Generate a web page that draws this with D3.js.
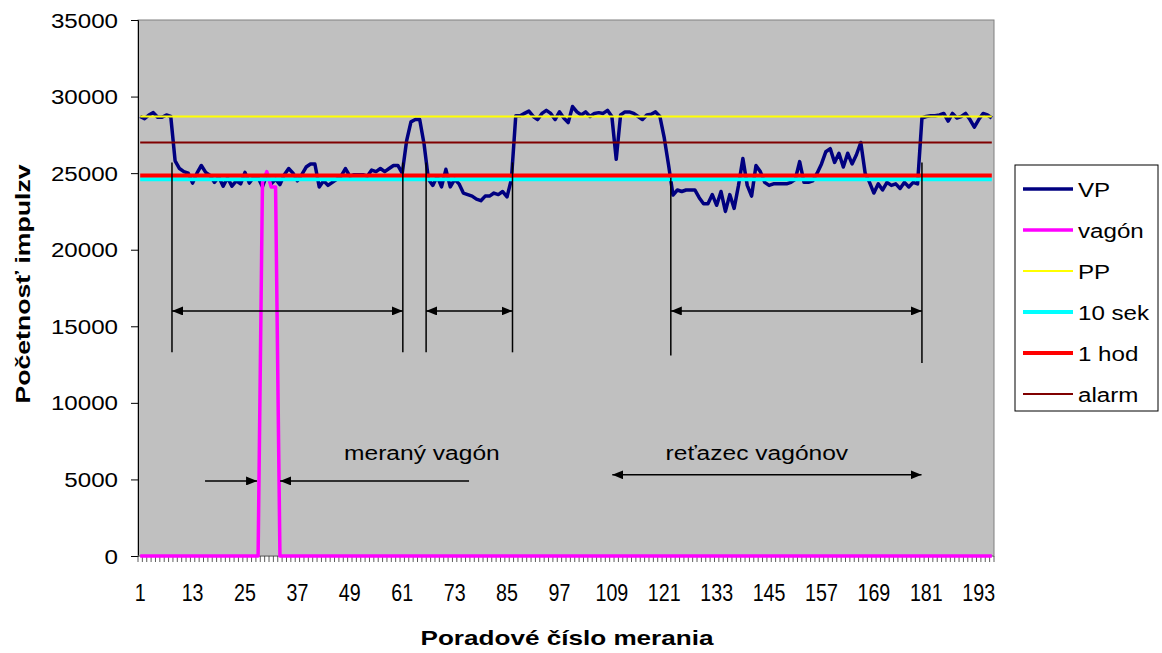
<!DOCTYPE html>
<html>
<head>
<meta charset="utf-8">
<script src="https://cdnjs.cloudflare.com/ajax/libs/d3/7.8.5/d3.min.js"></script>
<style>
    body { margin: 0; background: #fff; }
    text { font-family: "Liberation Sans", Arial, sans-serif; fill: #000; }
</style>
</head>
<body>
<div id="chart"></div>
<script>
// categories 1..196 (poradové číslo merania)
const categories = d3.range(1, 197);
const xTickLabels = [1, 13, 25, 37, 49, 61, 73, 85, 97, 109, 121, 133, 145, 157, 169, 181, 193];
const yTicks = [0, 5000, 10000, 15000, 20000, 25000, 30000, 35000];

// VP - measured count rate
const vpValues = [
    28700, 28550, 28800, 28950, 28650, 28650, 28800, 28700, 25800, 25300,
    25100, 25000, 24350, 25000, 25500, 25050, 24850, 24400, 24750, 24150,
    24700, 24150, 24500, 24300, 25050, 24350, 24750, 24700, 24120, 24900,
    24300, 24600, 24250, 24900, 25300, 25000, 24500, 24900, 25400, 25600,
    25600, 24100, 24500, 24200, 24400, 24600, 24800, 25300, 24800, 24900,
    24900, 24900, 24800, 25200, 25100, 25300, 25100, 25300, 25500, 25500,
    25000, 27100, 28350, 28500, 28500, 26900, 24600, 24200, 24800, 24100,
    25250, 24100, 24600, 24300, 23700, 23600, 23500, 23300, 23200, 23500,
    23500, 23700, 23600, 23800, 23450, 24600, 28750, 28750, 28900, 29050,
    28700, 28500, 28900, 29100, 28900, 28500, 29000, 28600, 28300, 29350,
    29000, 28800, 29000, 28700, 28900, 28950, 28900, 29100, 28700, 25900,
    28800, 29000, 29000, 28900, 28700, 28500, 28800, 28850, 29000, 28700,
    27300, 25500, 23570, 23900, 23800, 23900, 23900, 23900, 23400, 23000,
    23000, 23600, 22900, 23800, 22500, 23600, 22700, 24200, 25950, 24200,
    23500, 25500, 25100, 24400, 24200, 24300, 24300, 24300, 24300, 24400,
    24600, 25750, 24400, 24400, 24500, 25000, 25600, 26400, 26600, 25700,
    26300, 25400, 26300, 25600, 26200, 27000, 25000, 24400, 23700, 24300,
    23900, 24400, 24200, 24300, 24000, 24400, 24100, 24400, 24300, 28600,
    28700, 28750, 28750, 28800, 28900, 28400, 28900, 28600, 28700, 28900,
    28500, 28000, 28500, 28900, 28800, 28600
];

// vagón - measured wagon
const vagonValues = [
    0, 0, 0, 0, 0, 0, 0, 0, 0, 0, 0, 0, 0, 0, 0, 0, 0, 0, 0, 0,
    0, 0, 0, 0, 0, 0, 0, 0, 24400, 25100, 24100, 24100, 0, 0, 0, 0, 0, 0, 0, 0,
    0, 0, 0, 0, 0, 0, 0, 0, 0, 0, 0, 0, 0, 0, 0, 0, 0, 0, 0, 0,
    0, 0, 0, 0, 0, 0, 0, 0, 0, 0, 0, 0, 0, 0, 0, 0, 0, 0, 0, 0,
    0, 0, 0, 0, 0, 0, 0, 0, 0, 0, 0, 0, 0, 0, 0, 0, 0, 0, 0, 0,
    0, 0, 0, 0, 0, 0, 0, 0, 0, 0, 0, 0, 0, 0, 0, 0, 0, 0, 0, 0,
    0, 0, 0, 0, 0, 0, 0, 0, 0, 0, 0, 0, 0, 0, 0, 0, 0, 0, 0, 0,
    0, 0, 0, 0, 0, 0, 0, 0, 0, 0, 0, 0, 0, 0, 0, 0, 0, 0, 0, 0,
    0, 0, 0, 0, 0, 0, 0, 0, 0, 0, 0, 0, 0, 0, 0, 0, 0, 0, 0, 0,
    0, 0, 0, 0, 0, 0, 0, 0, 0, 0, 0, 0, 0, 0, 0, 0
];

// constant levels
const ppLevel = 28700;
const sek10Level = 24600;
const hod1Level = 24850;
const alarmLevel = 27000;

const seriesNames = ["VP", "vagón", "PP", "10 sek", "1 hod", "alarm"];
const seriesColors = ["#000080", "#ff00ff", "#ffff00", "#00ffff", "#ff0000", "#800000"];
const seriesWidths = [3.5, 3.5, 2, 4, 4, 2];

// annotations, in data units (category index, count)
const markerLines = [
    { i: 8.28, top: 25700, bottom: 13300 },
    { i: 61.14, top: 25700, bottom: 13300 },
    { i: 66.47, top: 25700, bottom: 13300 },
    { i: 86.25, top: 25700, bottom: 13300 },
    { i: 122.5, top: 24700, bottom: 13100 },
    { i: 180.0, top: 25700, bottom: 12600 }
];
const spanArrows = [
    { from: 8.28, to: 61.14, v: 16000, heads: "both" },
    { from: 66.47, to: 86.25, v: 16000, heads: "both" },
    { from: 122.5, to: 180.0, v: 16000, heads: "both" },
    { from: 15.85, to: 27.76, v: 4900, heads: "end" },
    { from: 76.3, to: 33.03, v: 4900, heads: "end" },
    { from: 109.1, to: 179.9, v: 5300, heads: "both" }
];
const notes = [
    { text: "meraný vagón", i: 65.5, v: 6270 },
    { text: "reťazec vagónov", i: 142.2, v: 6270 }
];

class LineChart {

    constructor(_parentElement) {
        this.parentElement = _parentElement;
        this.initVis();
    }

    initVis() {
        let vis = this;

        vis.margin = { top: 20, right: 168, bottom: 97, left: 138 };
        vis.totalWidth = 1162;
        vis.totalHeight = 653;
        vis.width = vis.totalWidth - vis.margin.left - vis.margin.right;
        vis.height = vis.totalHeight - vis.margin.top - vis.margin.bottom;

        vis.root = d3.select("#" + vis.parentElement).append("svg")
            .attr("width", vis.totalWidth)
            .attr("height", vis.totalHeight);

        vis.svg = vis.root.append("g")
            .attr("transform", "translate(" + vis.margin.left + "," + vis.margin.top + ")");

        // Scales
        vis.x = d3.scaleBand()
            .domain(categories)
            .range([0, vis.width]);

        vis.y = d3.scaleLinear()
            .domain([0, 35000])
            .range([vis.height, 0]);

        // position of a (possibly fractional) category index
        vis.xi = i => vis.x(1) + vis.x.bandwidth() / 2 + (i - 1) * vis.x.step();

        vis.svg.append("rect")
            .attr("width", vis.width)
            .attr("height", vis.height)
            .attr("fill", "#c0c0c0")
            .attr("stroke", "#808080")
            .attr("stroke-width", 1);

        vis.wrangleData();
    }

    wrangleData() {
        let vis = this;

        let levels = [null, null, ppLevel, sek10Level, hod1Level, alarmLevel];
        vis.displayData = seriesNames.map((name, k) => ({
            name: name,
            color: seriesColors[k],
            width: seriesWidths[k],
            values: categories.map((c, j) => ({
                cat: c,
                v: k === 0 ? vpValues[j] : (k === 1 ? vagonValues[j] : levels[k])
            }))
        }));

        vis.updateVis();
    }

    updateVis() {
        let vis = this;

        // Axes
        let yAxis = d3.axisLeft(vis.y)
            .tickValues(yTicks)
            .tickSize(7)
            .tickFormat("");
        let yG = vis.svg.append("g").attr("class", "y-axis").call(yAxis);
        yG.select(".domain").attr("stroke", "#000");

        yG.selectAll(".tick").append("text")
            .attr("transform", "translate(-20,7) scale(1.15,1)")
            .attr("text-anchor", "end")
            .style("font-size", "21px")
            .text(d => d);

        // category tick marks at band boundaries
        let xG = vis.svg.append("g").attr("class", "x-axis")
            .attr("transform", "translate(0," + vis.height + ")");
        xG.append("line")
            .attr("x1", 0).attr("x2", vis.width)
            .attr("stroke", "#808080");
        xG.selectAll(".tk")
            .data(categories.concat([categories.length + 1]))
            .enter().append("line")
            .attr("x1", d => vis.xi(d) - vis.x.step() / 2)
            .attr("x2", d => vis.xi(d) - vis.x.step() / 2)
            .attr("y1", 0).attr("y2", 6)
            .attr("stroke", "#333")
            .attr("stroke-width", 0.8);
        xG.selectAll(".xl")
            .data(xTickLabels)
            .enter().append("text")
            .attr("transform", d => "translate(" + vis.xi(d) + ",45) scale(0.82,1)")
            .attr("text-anchor", "middle")
            .style("font-size", "24px")
            .text(d => d);

        // Series lines
        let line = d3.line()
            .x(d => vis.xi(d.cat))
            .y(d => vis.y(d.v));

        vis.svg.selectAll(".series")
            .data(vis.displayData)
            .enter().append("path")
            .attr("class", "series")
            .attr("d", d => line(d.values))
            .attr("fill", "none")
            .attr("stroke", d => d.color)
            .attr("stroke-width", d => d.width)
            .attr("stroke-linejoin", "round");

        // Annotations
        let defs = vis.root.append("defs");
        defs.append("marker")
            .attr("id", "head")
            .attr("viewBox", "0 0 11 9")
            .attr("refX", 11).attr("refY", 4.5)
            .attr("markerUnits", "userSpaceOnUse")
            .attr("markerWidth", 11).attr("markerHeight", 9)
            .attr("orient", "auto-start-reverse")
            .append("path")
            .attr("d", "M0,0 L11,4.5 L0,9 Z")
            .attr("fill", "#000");

        vis.svg.selectAll(".marker-line")
            .data(markerLines)
            .enter().append("line")
            .attr("x1", d => vis.xi(d.i)).attr("x2", d => vis.xi(d.i))
            .attr("y1", d => vis.y(d.top)).attr("y2", d => vis.y(d.bottom))
            .attr("stroke", "#000")
            .attr("stroke-width", 1.5);

        vis.svg.selectAll(".span-arrow")
            .data(spanArrows)
            .enter().append("line")
            .attr("x1", d => vis.xi(d.from)).attr("x2", d => vis.xi(d.to))
            .attr("y1", d => vis.y(d.v)).attr("y2", d => vis.y(d.v))
            .attr("stroke", "#000")
            .attr("stroke-width", 1.5)
            .attr("marker-end", "url(#head)")
            .attr("marker-start", d => d.heads === "both" ? "url(#head)" : null);

        vis.svg.selectAll(".note")
            .data(notes)
            .enter().append("text")
            .attr("transform", d => "translate(" + vis.xi(d.i) + "," + vis.y(d.v) + ") scale(1.17,1)")
            .attr("text-anchor", "middle")
            .style("font-size", "21px")
            .text(d => d.text);

        // Axis titles
        vis.root.append("text")
            .attr("x", 567)
            .attr("y", 645)
            .attr("text-anchor", "middle")
            .attr("textLength", 293)
            .attr("lengthAdjust", "spacingAndGlyphs")
            .style("font-size", "21px")
            .style("font-weight", "bold")
            .text("Poradové číslo merania");

        vis.root.append("text")
            .attr("transform", "translate(30,284) rotate(-90)")
            .attr("text-anchor", "middle")
            .attr("textLength", 239)
            .attr("lengthAdjust", "spacingAndGlyphs")
            .style("font-size", "21px")
            .style("font-weight", "bold")
            .text("Početnosť impulzv");

        // Legend
        let legend = vis.root.append("g").attr("transform", "translate(1015,165)");
        legend.append("rect")
            .attr("width", 143).attr("height", 246)
            .attr("fill", "#fff")
            .attr("stroke", "#000");

        let rows = legend.selectAll(".row")
            .data(vis.displayData)
            .enter().append("g")
            .attr("transform", (d, k) => "translate(0," + (24 + k * 41) + ")");
        rows.append("line")
            .attr("x1", 8).attr("x2", 58)
            .attr("stroke", d => d.color)
            .attr("stroke-width", d => d.width);
        rows.append("text")
            .attr("transform", "translate(63,8) scale(1.15,1)")
            .style("font-size", "21px")
            .text(d => d.name);
    }
}

new LineChart("chart");
</script>
</body>
</html>
